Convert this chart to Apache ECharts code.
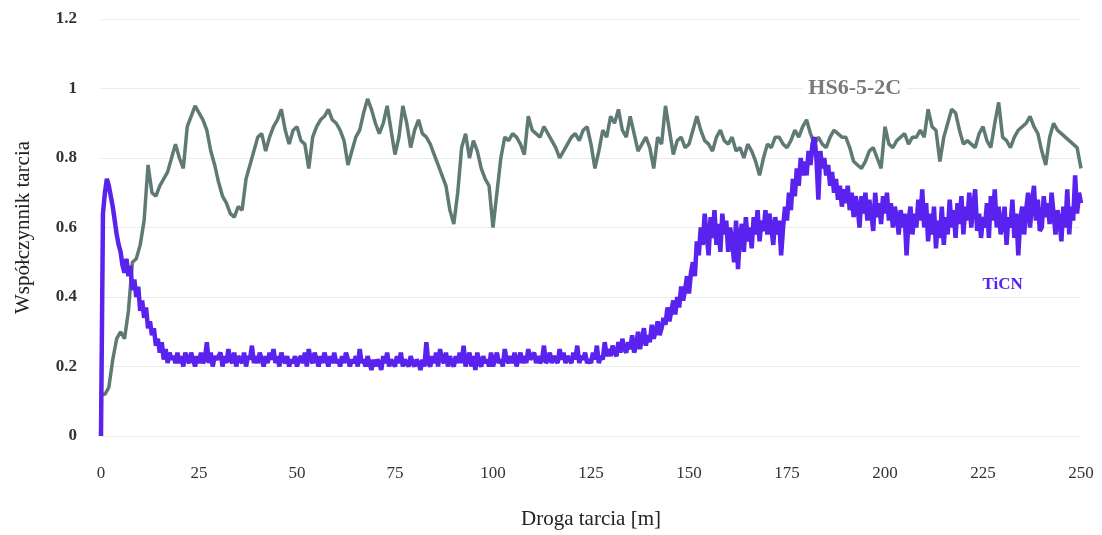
<!DOCTYPE html>
<html>
<head>
<meta charset="utf-8">
<script src="https://cdn.jsdelivr.net/npm/echarts@6/dist/echarts.min.js"></script>
<style>
  html, body { margin: 0; padding: 0; background: #fff; }
  #chart { width: 1102px; height: 535px; }
</style>
</head>
<body>
<div id="chart"></div>
<script>
const xTicks = [0, 25, 50, 75, 100, 125, 150, 175, 200, 225, 250];
const yTicks = [0, 0.2, 0.4, 0.6, 0.8, 1, 1.2];

// HS6-5-2C (odczyt z wykresu, krok 1 m)
const hsStep = 1;
const hsValues = [
  0.12, 0.12, 0.14, 0.22, 0.28, 0.30, 0.28, 0.36, 0.50, 0.51,
  0.55, 0.62, 0.78, 0.70, 0.69, 0.72, 0.74, 0.76, 0.80, 0.84,
  0.80, 0.77, 0.89, 0.92, 0.95, 0.93, 0.91, 0.88, 0.82, 0.78,
  0.73, 0.69, 0.67, 0.64, 0.63, 0.66, 0.65, 0.74, 0.78, 0.82,
  0.86, 0.87, 0.82, 0.86, 0.89, 0.91, 0.94, 0.88, 0.84, 0.88,
  0.89, 0.85, 0.84, 0.77, 0.86, 0.89, 0.91, 0.92, 0.94, 0.91,
  0.90, 0.88, 0.85, 0.78, 0.82, 0.86, 0.88, 0.93, 0.97, 0.94,
  0.90, 0.87, 0.90, 0.95, 0.88, 0.81, 0.86, 0.95, 0.90, 0.83,
  0.88, 0.91, 0.87, 0.86, 0.84, 0.81, 0.78, 0.75, 0.72, 0.65,
  0.61, 0.70, 0.83, 0.87, 0.80, 0.85, 0.82, 0.77, 0.74, 0.72,
  0.60, 0.70, 0.80, 0.86, 0.85, 0.87, 0.86, 0.84, 0.81, 0.92,
  0.88, 0.87, 0.86, 0.89, 0.87, 0.85, 0.83, 0.80, 0.82, 0.84,
  0.86, 0.87, 0.85, 0.88, 0.89, 0.84, 0.77, 0.82, 0.88, 0.86,
  0.92, 0.90, 0.94, 0.88, 0.86, 0.92, 0.87, 0.82, 0.84, 0.86,
  0.83, 0.77, 0.86, 0.84, 0.95, 0.88, 0.81, 0.85, 0.86, 0.83,
  0.84, 0.88, 0.92, 0.88, 0.85, 0.84, 0.82, 0.86, 0.88, 0.85,
  0.84, 0.86, 0.82, 0.83, 0.80, 0.84, 0.82, 0.79, 0.75, 0.80,
  0.84, 0.83, 0.86, 0.86, 0.84, 0.83, 0.85, 0.88, 0.86, 0.89,
  0.91, 0.87, 0.84, 0.86, 0.84, 0.83, 0.86, 0.88, 0.87, 0.86,
  0.86, 0.83, 0.79, 0.78, 0.77, 0.79, 0.82, 0.83, 0.80, 0.77,
  0.89, 0.84, 0.83, 0.85, 0.86, 0.87, 0.84, 0.86, 0.86, 0.88,
  0.86, 0.94, 0.89, 0.88, 0.79, 0.86, 0.90, 0.94, 0.93, 0.88,
  0.84, 0.85, 0.84, 0.83, 0.87, 0.89, 0.85, 0.83, 0.90, 0.96,
  0.86, 0.85, 0.83, 0.86, 0.88, 0.89, 0.90, 0.92, 0.89, 0.87,
  0.82, 0.78, 0.86, 0.90, 0.88, 0.87, 0.86, 0.85, 0.84, 0.83,
  0.77
];

// TiCN (odczyt z wykresu, krok 0.5 m, jeden wiersz = 10 m)
const ticnStep = 0.5;
const ticnValues = [
  0.00, 0.64, 0.70, 0.74, 0.72, 0.69, 0.66, 0.62, 0.58, 0.55, 0.53, 0.49, 0.47, 0.51, 0.46, 0.49, 0.42, 0.45, 0.40, 0.43,
  0.36, 0.39, 0.34, 0.37, 0.31, 0.33, 0.29, 0.31, 0.26, 0.28, 0.24, 0.27, 0.22, 0.25, 0.21, 0.24, 0.22, 0.23, 0.21, 0.24,
  0.21, 0.23, 0.20, 0.24, 0.22, 0.21, 0.24, 0.22, 0.20, 0.23, 0.21, 0.24, 0.21, 0.22, 0.27, 0.21, 0.24, 0.20, 0.23, 0.22,
  0.22, 0.24, 0.20, 0.23, 0.21, 0.25, 0.22, 0.21, 0.24, 0.20, 0.23, 0.22, 0.21, 0.24, 0.20, 0.23, 0.22, 0.26, 0.21, 0.23,
  0.21, 0.24, 0.22, 0.20, 0.23, 0.21, 0.24, 0.22, 0.25, 0.21, 0.23, 0.20, 0.24, 0.22, 0.21, 0.23, 0.20, 0.22, 0.21, 0.23,
  0.20, 0.22, 0.23, 0.21, 0.24, 0.20, 0.25, 0.22, 0.21, 0.24, 0.22, 0.20, 0.23, 0.21, 0.24, 0.22, 0.20, 0.23, 0.21, 0.24,
  0.21, 0.22, 0.20, 0.23, 0.21, 0.24, 0.22, 0.20, 0.22, 0.21, 0.23, 0.20, 0.25, 0.21, 0.22, 0.20, 0.23, 0.21, 0.19, 0.22,
  0.20, 0.22, 0.21, 0.19, 0.23, 0.21, 0.24, 0.20, 0.22, 0.21, 0.20, 0.23, 0.21, 0.24, 0.20, 0.22, 0.21, 0.20, 0.23, 0.21,
  0.20, 0.22, 0.21, 0.19, 0.22, 0.20, 0.27, 0.21, 0.20, 0.23, 0.21, 0.24, 0.20, 0.25, 0.22, 0.21, 0.24, 0.20, 0.23, 0.21,
  0.20, 0.23, 0.21, 0.24, 0.21, 0.26, 0.20, 0.22, 0.24, 0.20, 0.23, 0.19, 0.24, 0.21, 0.20, 0.23, 0.21, 0.22, 0.20, 0.24,
  0.20, 0.22, 0.24, 0.21, 0.22, 0.20, 0.25, 0.22, 0.21, 0.23, 0.21, 0.24, 0.20, 0.22, 0.24, 0.21, 0.23, 0.21, 0.25, 0.22,
  0.22, 0.24, 0.21, 0.23, 0.21, 0.22, 0.26, 0.21, 0.22, 0.24, 0.21, 0.23, 0.22, 0.21, 0.25, 0.22, 0.24, 0.21, 0.23, 0.22,
  0.21, 0.24, 0.22, 0.26, 0.21, 0.23, 0.22, 0.24, 0.21, 0.22, 0.21, 0.24, 0.22, 0.26, 0.21, 0.23, 0.22, 0.27, 0.23, 0.25,
  0.23, 0.26, 0.24, 0.23, 0.27, 0.24, 0.28, 0.25, 0.24, 0.27, 0.25, 0.29, 0.24, 0.26, 0.30, 0.25, 0.28, 0.31, 0.26, 0.29,
  0.27, 0.32, 0.28, 0.30, 0.33, 0.29, 0.31, 0.34, 0.32, 0.37, 0.33, 0.36, 0.39, 0.35, 0.40, 0.37, 0.43, 0.39, 0.42, 0.46,
  0.41, 0.47, 0.50, 0.46, 0.56, 0.52, 0.60, 0.55, 0.64, 0.58, 0.52, 0.63, 0.57, 0.65, 0.55, 0.61, 0.53, 0.64, 0.58, 0.62,
  0.53, 0.60, 0.56, 0.50, 0.62, 0.48, 0.58, 0.61, 0.53, 0.63, 0.56, 0.60, 0.54, 0.63, 0.58, 0.65, 0.56, 0.62, 0.59, 0.65,
  0.58, 0.64, 0.60, 0.55, 0.63, 0.58, 0.62, 0.52, 0.60, 0.66, 0.62, 0.70, 0.65, 0.74, 0.69, 0.77, 0.72, 0.80, 0.75, 0.79,
  0.75, 0.82, 0.78, 0.84, 0.86, 0.80, 0.68, 0.82, 0.77, 0.80, 0.75, 0.78, 0.72, 0.76, 0.70, 0.74, 0.68, 0.72, 0.66, 0.71,
  0.67, 0.72, 0.65, 0.70, 0.63, 0.69, 0.66, 0.60, 0.69, 0.64, 0.70, 0.62, 0.68, 0.64, 0.59, 0.70, 0.63, 0.67, 0.61, 0.69,
  0.64, 0.70, 0.62, 0.67, 0.60, 0.66, 0.63, 0.58, 0.65, 0.60, 0.64, 0.52, 0.62, 0.66, 0.58, 0.64, 0.60, 0.68, 0.62, 0.71,
  0.60, 0.67, 0.56, 0.64, 0.58, 0.66, 0.54, 0.62, 0.57, 0.66, 0.55, 0.63, 0.58, 0.68, 0.60, 0.65, 0.57, 0.67, 0.61, 0.69,
  0.58, 0.66, 0.62, 0.70, 0.60, 0.66, 0.71, 0.59, 0.64, 0.57, 0.63, 0.60, 0.67, 0.57, 0.69, 0.62, 0.71, 0.60, 0.66, 0.58,
  0.61, 0.66, 0.55, 0.63, 0.60, 0.68, 0.57, 0.64, 0.52, 0.62, 0.66, 0.58, 0.65, 0.70, 0.60, 0.67, 0.72, 0.62, 0.68, 0.59,
  0.60, 0.69, 0.63, 0.67, 0.61, 0.70, 0.64, 0.58, 0.65, 0.62, 0.56, 0.66, 0.60, 0.71, 0.58, 0.66, 0.62, 0.75, 0.64, 0.70,
  0.67
];

const hsName = "HS6-5-2C";
const ticnName = "TiCN";

const fontFamily = '"Liberation Serif", "DejaVu Serif", serif';

// [droga, wartość]
function toPairs(values, step) {
  return values.map((v, i) => [i * step, v]);
}

let chart = echarts.init(document.getElementById("chart"));

chart.setOption({
  backgroundColor: "#fff",
  animation: false,
  grid: {
    left: 101,
    right: 21,
    top: 19,
    bottom: 90,
    containLabel: false,
  },
  xAxis: {
    type: "value",
    min: 0,
    max: 250,
    interval: 25,
    name: "Droga tarcia [m]",
    nameLocation: "middle",
    nameGap: 73,
    nameTextStyle: {
      fontFamily: fontFamily,
      fontSize: 21,
      color: "#222",
    },
    axisLine: { show: false },
    axisTick: { show: false },
    splitLine: { show: false },
    axisLabel: {
      margin: 29,
      fontFamily: fontFamily,
      fontSize: 17,
      color: "#333",
      customValues: xTicks,
    },
  },
  yAxis: {
    type: "value",
    min: 0,
    max: 1.2,
    interval: 0.2,
    name: "Współczynnik tarcia",
    nameLocation: "middle",
    nameGap: 67,
    nameTextStyle: {
      fontFamily: fontFamily,
      fontSize: 21,
      color: "#222",
    },
    axisLine: { show: false },
    axisTick: { show: false },
    axisLabel: {
      margin: 24,
      fontFamily: fontFamily,
      fontSize: 17,
      fontWeight: "bold",
      color: "#333",
      formatter: (v) => {
        let t = yTicks.find((y) => Math.abs(y - v) < 1e-6);
        return t === undefined ? "" : String(t);
      },
    },
    splitLine: {
      show: true,
      lineStyle: { color: "#ebebeb", width: 1 },
    },
  },
  series: [
    {
      name: hsName,
      type: "line",
      data: toPairs(hsValues, hsStep),
      showSymbol: false,
      lineStyle: { color: "#5f7a74", width: 3.5 },
      z: 2,
    },
    {
      name: ticnName,
      type: "line",
      data: toPairs(ticnValues, ticnStep),
      showSymbol: false,
      lineStyle: { color: "#5a22ee", width: 4.5 },
      z: 3,
    },
  ],
});

// etykiety serii wewnątrz wykresu
let hsPos = chart.convertToPixel({ gridIndex: 0 }, [192.3, 1.0]);
let ticnPos = chart.convertToPixel({ gridIndex: 0 }, [230, 0.437]);

chart.setOption({
  graphic: [
    {
      type: "text",
      x: hsPos[0],
      y: hsPos[1],
      z: 10,
      style: {
        text: hsName,
        fontFamily: fontFamily,
        fontSize: 22,
        fontWeight: "bold",
        fill: "#7a7a7a",
        align: "center",
        verticalAlign: "middle",
        backgroundColor: "#fff",
        padding: [2, 6],
      },
    },
    {
      type: "text",
      x: ticnPos[0],
      y: ticnPos[1],
      z: 10,
      style: {
        text: ticnName,
        fontFamily: fontFamily,
        fontSize: 17,
        fontWeight: "bold",
        fill: "#5a22ee",
        align: "center",
        verticalAlign: "middle",
      },
    },
  ],
});

window.addEventListener("resize", () => {
  chart.resize();
});
</script>
</body>
</html>
